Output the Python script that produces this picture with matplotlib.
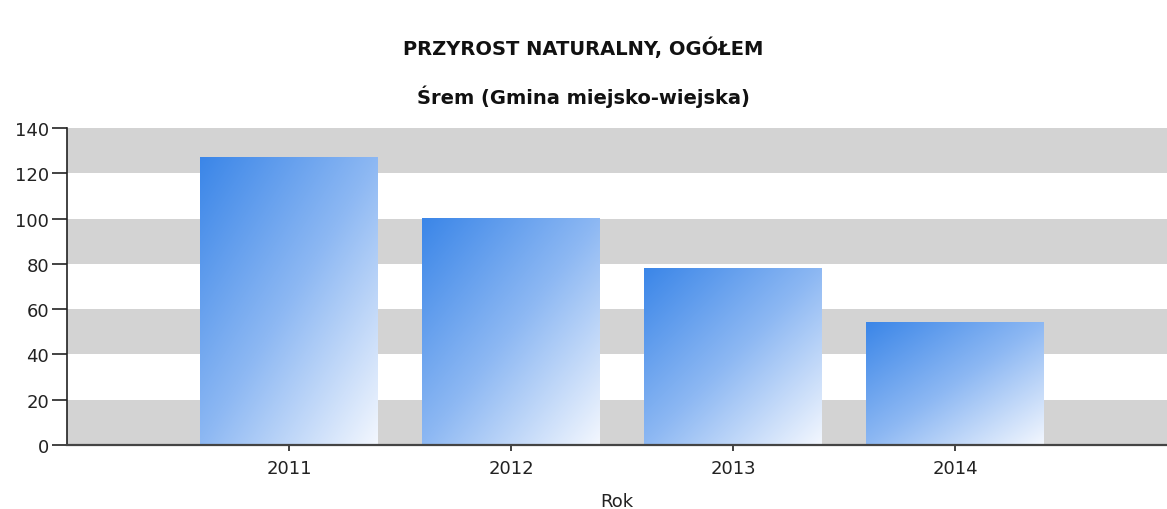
import numpy as np
import matplotlib.pyplot as plt
from matplotlib.colors import LinearSegmentedColormap

# dane
lata = ["2011", "2012", "2013", "2014"]
przyrost = [127, 100, 78, 54]

tytul = "PRZYROST NATURALNY, OGÓŁEM"
podtytul = "Śrem (Gmina miejsko-wiejska)"

fig = plt.figure(figsize=(11.67, 5.10), dpi=100)
ax = fig.add_axes([67 / 1167, 1 - 446 / 510, 1 - 67 / 1167, (446 - 129) / 510])

# pasy tła
for y0 in range(0, 140, 40):
    ax.axhspan(y0, y0 + 20, color="#d3d3d3", lw=0, zorder=0)

cmap = LinearSegmentedColormap.from_list("grad", ["#3b86e8", "#8db8f3", "#f3f7fe"])
gx, gy = np.meshgrid(np.linspace(0, 1, 200), np.linspace(0, 1, 200))
grad = (gx + gy) / 2  # od lewego górnego rogu do prawego dolnego

x = np.arange(len(lata))
w = 0.8
bars = ax.bar(x, przyrost, width=w, color="none", zorder=2)
for b in bars:
    x0, h = b.get_x(), b.get_height()
    ax.imshow(grad, cmap=cmap, extent=[x0, x0 + w, 0, h], origin="upper",
              aspect="auto", zorder=2, interpolation="bilinear")

ax.set_xlim(-1, 3.955)
ax.set_ylim(0, 140)
ax.set_yticks(range(0, 141, 20))
ax.set_xticks(x)
ax.set_xticklabels(lata)
ax.tick_params(axis="y", length=11, width=1.2, pad=2, labelsize=13, colors="#222222")
ax.tick_params(axis="x", length=4, width=1.2, pad=6, labelsize=13, colors="#222222")
for s in ["top", "right"]:
    ax.spines[s].set_visible(False)
ax.spines["left"].set_color("#222222")
ax.spines["bottom"].set_color("#444444")
ax.spines["left"].set_linewidth(1.2)
ax.spines["bottom"].set_linewidth(1.6)
ax.set_xlabel("Rok", fontsize=13, color="#222222", labelpad=11)

fig.text(0.5, 1 - 48 / 510, tytul, ha="center", va="center",
         fontsize=14, fontweight="bold", color="#111111")
fig.text(0.5, 1 - 97 / 510, podtytul, ha="center", va="center",
         fontsize=14, fontweight="bold", color="#111111")

fig.savefig("out.png", dpi=100)
